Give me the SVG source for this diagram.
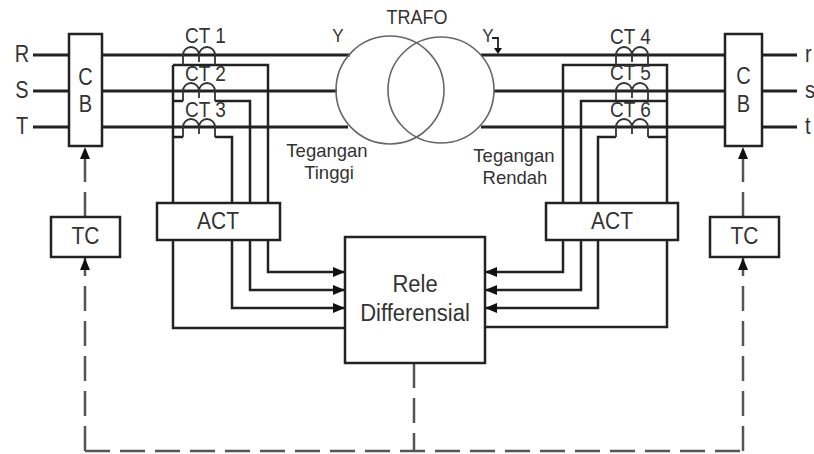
<svg xmlns="http://www.w3.org/2000/svg" width="814" height="454" viewBox="0 0 814 454">
<style>
text{font-family:"Liberation Sans",Arial,sans-serif;fill:#333}
.box{fill:#fff;stroke:#222;stroke-width:2.5}
.ph{stroke:#222;stroke-width:3;fill:none}
.w{stroke:#222;stroke-width:2.5;fill:none}
.coil{stroke:#333;stroke-width:1.8;fill:none}
.dash{stroke:#555;stroke-width:2.5;fill:none;stroke-dasharray:25 10}
.circ{stroke:#666;stroke-width:1.6;fill:none}
.big{font-size:21px;text-anchor:middle}
.ph-l{font-size:20px;text-anchor:middle}
.ct{font-size:19px}
.lbl{font-size:18.5px;text-anchor:middle}
</style>
<defs>
<marker id="ah" viewBox="0 0 12 10" refX="12" refY="5" markerWidth="12" markerHeight="10" markerUnits="userSpaceOnUse" orient="auto">
<path d="M0,0 L12,5 L0,10 z" fill="#111"/>
</marker>
</defs>
<rect width="814" height="454" fill="#fff"/>

<g id="connectors">
<path class="ph" d="M33,55 H69 M102,55 H350 M481,55 H725 M762,55 H797"/>
<path class="ph" d="M33,91 H69 M102,91 H337 M494,91 H725 M762,91 H797"/>
<path class="ph" d="M33,127 H69 M102,127 H348 M481,127 H725 M762,127 H797"/>
<path class="w" d="M173,65 H268 V203"/>
<path class="w" d="M173,101 H183 M215,101 H250 V203"/>
<path class="w" d="M173,137 H183 M215,137 H232 V203"/>
<path class="w" d="M173,65 V203"/>
<path class="w" d="M563,203 V65 H667 V203"/>
<path class="w" d="M581,203 V101 H667"/>
<path class="w" d="M598,203 V137 H616 M648,137 H667"/>
<path class="w" d="M173,240 V328 H345"/>
<path class="w" d="M268,240 V272 H345" marker-end="url(#ah)"/>
<path class="w" d="M250,240 V290 H345" marker-end="url(#ah)"/>
<path class="w" d="M232,240 V308 H345" marker-end="url(#ah)"/>
<path class="w" d="M667,240 V327 H485"/>
<path class="w" d="M563,240 V272 H485" marker-end="url(#ah)"/>
<path class="w" d="M581,240 V290 H485" marker-end="url(#ah)"/>
<path class="w" d="M598,240 V308 H485" marker-end="url(#ah)"/>
<path class="dash" d="M85,217 V147" marker-end="url(#ah)"/>
<path class="dash" d="M85,451 V258" marker-end="url(#ah)"/>
<path class="dash" d="M743,217 V147" marker-end="url(#ah)"/>
<path class="dash" d="M743,451 V258" marker-end="url(#ah)"/>
<path class="dash" d="M414,363 V451"/>
<path class="dash" d="M85,451 H743"/>
</g>

<g id="phase-labels">
<text class="ph-l" transform="translate(22,62) scale(1,1.15)">R</text>
<text class="ph-l" transform="translate(22,98) scale(1,1.15)">S</text>
<text class="ph-l" transform="translate(22,134) scale(1,1.15)">T</text>
<text style="font-size:20px" transform="translate(805,62) scale(1,1.15)">r</text>
<text style="font-size:20px" transform="translate(805,98) scale(1,1.15)">s</text>
<text style="font-size:20px" transform="translate(805,134) scale(1,1.15)">t</text>
</g>

<g id="cb-left">
<rect class="box" x="69" y="34" width="33" height="112"/>
<text class="ph-l" transform="translate(85.5,85) scale(1,1.15)">C</text>
<text class="ph-l" transform="translate(85.5,112) scale(1,1.15)">B</text>
</g>
<g id="cb-right">
<rect class="box" x="725" y="34" width="37" height="112"/>
<text class="ph-l" transform="translate(743.5,84) scale(1,1.15)">C</text>
<text class="ph-l" transform="translate(743.5,112) scale(1,1.15)">B</text>
</g>

<g id="trafo">
<circle class="circ" cx="390" cy="90" r="54"/>
<circle class="circ" cx="441" cy="90" r="53"/>
<text transform="translate(417,24) scale(1,1.1)" style="font-size:18px;text-anchor:middle">TRAFO</text>
<text transform="translate(338,42) scale(1,1.1)" style="font-size:17px;text-anchor:middle">Y</text>
<text transform="translate(488,42) scale(1,1.1)" style="font-size:17px;text-anchor:middle">Y</text>
<path d="M492,38 H498 V50" stroke="#222" stroke-width="1.8" fill="none"/>
<path d="M494,48 H502 L498,54 z" fill="#111"/>
<text class="lbl" x="327" y="157">Tegangan</text>
<text class="lbl" x="329" y="179">Tinggi</text>
<text class="lbl" x="514" y="162">Tegangan</text>
<text class="lbl" x="515" y="184">Rendah</text>
</g>

<g id="ct1">
<path class="coil" d="M183,65 V55 A8,8 0 0 1 199,55 A8,8 0 0 1 215,55 V65 M199,55 V62"/>
<text class="ct" transform="translate(185,43) scale(1,1.12)">CT 1</text>
</g>
<g id="ct2">
<path class="coil" d="M183,101 V91 A8,8 0 0 1 199,91 A8,8 0 0 1 215,91 V101 M199,91 V98"/>
<text class="ct" transform="translate(185,81) scale(1,1.12)">CT 2</text>
</g>
<g id="ct3">
<path class="coil" d="M183,137 V127 A8,8 0 0 1 199,127 A8,8 0 0 1 215,127 V137 M199,127 V134"/>
<text class="ct" transform="translate(185,117) scale(1,1.12)">CT 3</text>
</g>
<g id="ct4">
<path class="coil" d="M616,65 V55 A8,8 0 0 1 632,55 A8,8 0 0 1 648,55 V65 M632,55 V62"/>
<text class="ct" transform="translate(610,44) scale(1,1.12)">CT 4</text>
</g>
<g id="ct5">
<path class="coil" d="M616,101 V91 A8,8 0 0 1 632,91 A8,8 0 0 1 648,91 V101 M632,91 V98"/>
<text class="ct" transform="translate(610,80) scale(1,1.12)">CT 5</text>
</g>
<g id="ct6">
<path class="coil" d="M616,137 V127 A8,8 0 0 1 632,127 A8,8 0 0 1 648,127 V137 M632,127 V134"/>
<text class="ct" transform="translate(610,117) scale(1,1.12)">CT 6</text>
</g>

<g id="act-left">
<rect class="box" x="157" y="203" width="123" height="37"/>
<text class="big" transform="translate(218,229) scale(1,1.12)">ACT</text>
</g>
<g id="act-right">
<rect class="box" x="546" y="203" width="132" height="37"/>
<text class="big" transform="translate(612,229) scale(1,1.12)">ACT</text>
</g>

<g id="rele">
<rect class="box" x="345" y="237" width="140" height="126"/>
<text transform="translate(415,292) scale(1,1.12)" style="font-size:22px;text-anchor:middle">Rele</text>
<text transform="translate(415,321) scale(1,1.12)" style="font-size:22px;text-anchor:middle">Differensial</text>
</g>

<g id="tc-left">
<rect class="box" x="51" y="217" width="69" height="40"/>
<text class="big" transform="translate(85.5,244) scale(1,1.12)">TC</text>
</g>
<g id="tc-right">
<rect class="box" x="710" y="217" width="69" height="40"/>
<text class="big" transform="translate(744.5,244) scale(1,1.12)">TC</text>
</g>
</svg>
